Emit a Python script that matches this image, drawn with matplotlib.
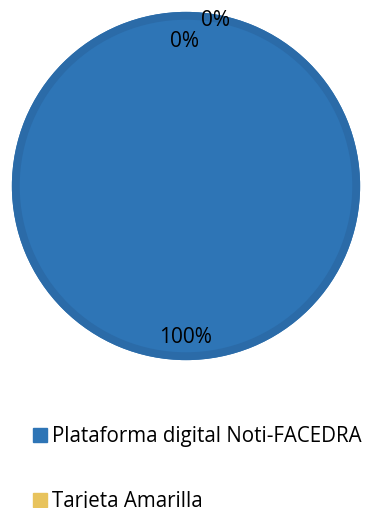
import matplotlib.pyplot as plt
from matplotlib.patches import Wedge
from matplotlib.lines import Line2D

categories = ["Plataforma digital Noti-FACEDRA", "Tarjeta Amarilla", "Otros medios"]
values = [100, 0, 0]
colors = ["#2E75B6", "#E8C35C", "#A5A5A5"]
rim_color = "#2B6BA8"

plt.rcParams["font.family"] = ["Open Sans", "DejaVu Sans"]

fig = plt.figure(figsize=(3.72, 5.08), dpi=100)
ax = fig.add_axes([9 / 372, (508 - 361) / 508, 354 / 372, 350 / 508])

wedges, texts, autotexts = ax.pie(
    values, colors=colors, startangle=90, counterclock=False, radius=1.0,
    autopct=lambda p: f"{p:.0f}%", pctdistance=0.87,
    wedgeprops=dict(linewidth=0), textprops=dict(fontsize=15, color="black"),
    normalize=True,
)
ax.set_xlim(-1.005, 1.005)
ax.set_ylim(-1.005, 1.005)
ax.set_aspect("equal")
ax.axis("off")

# darker bevel rim around the outside of the pie
ax.add_patch(Wedge((0, 0), 1.0, 0, 360, width=0.045, facecolor=rim_color, linewidth=0))

# the two zero-size slices share the top position; move one label aside
autotexts[1].set_position((-0.01, 0.83))
autotexts[2].set_position((0.17, 0.95))
for t in autotexts:
    t.set_zorder(5)

handles = [Line2D([], [], marker="s", linestyle="none", markersize=10.5,
                  markerfacecolor=c, markeredgecolor=c) for c in colors]
fig.legend(handles, categories, loc="upper left", bbox_to_anchor=(19 / 372, 1 - 418 / 508),
           frameon=False, fontsize=14.8, handletextpad=0.0, labelspacing=2.15,
           handlelength=1.2, borderaxespad=0)

fig.savefig("out.png", dpi=100)
